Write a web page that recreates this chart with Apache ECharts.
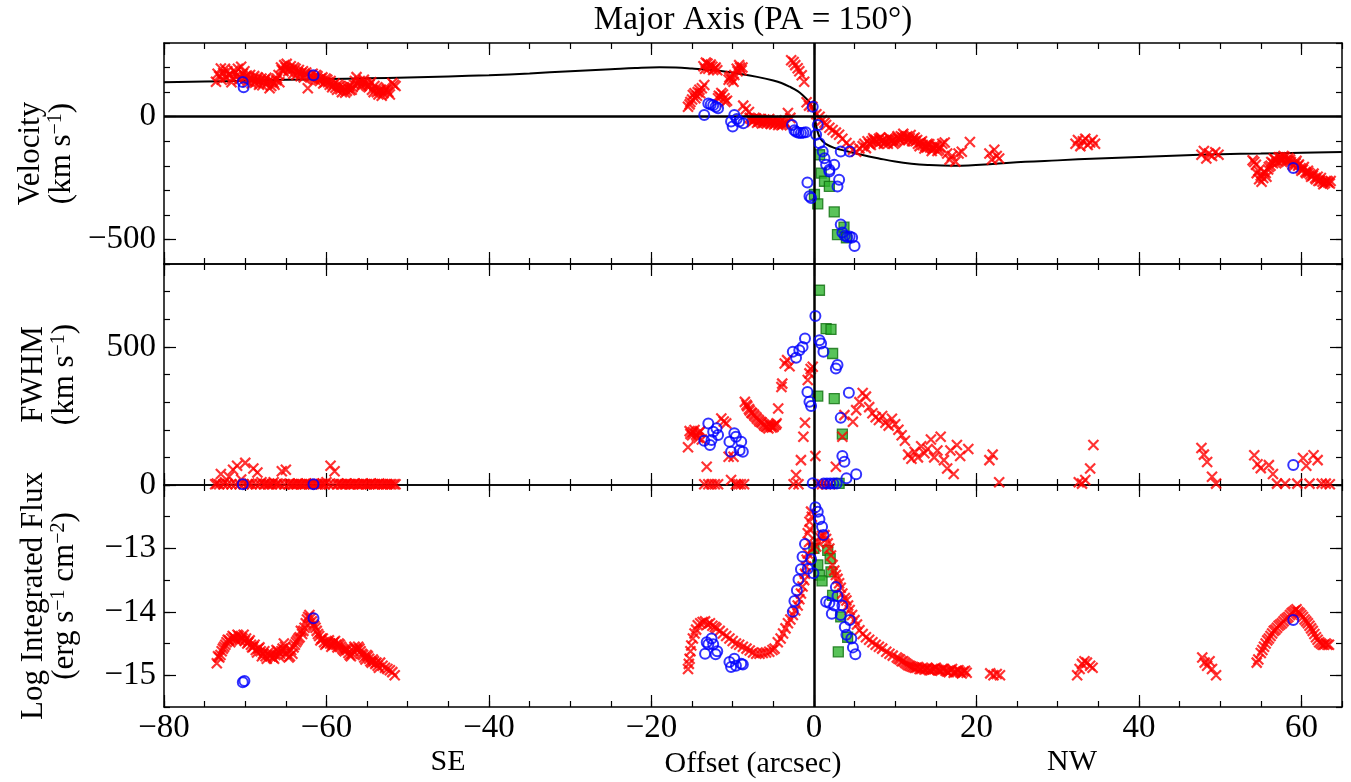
<!DOCTYPE html>
<html><head><meta charset="utf-8">
<script src="https://cdn.jsdelivr.net/npm/echarts@6/dist/echarts.min.js"></script>
<style>html,body{margin:0;padding:0;background:#fff}#c{width:1351px;height:782px}</style>
</head><body><div id="c"></div>
<script>
const FONT = 'Liberation Serif';
// ---- tick values ----
const xMajorTicks = [-80, -60, -40, -20, 0, 20, 40, 60];
const velTicks = [-500, 0];
const fwhmTicks = [0, 500];
const fluxTicks = [-15, -14, -13];

// ---- Velocity panel ----
const velModel = [[-80,140],[-75,143],[-70,146],[-65,150],[-60,153],[-55,156],[-50,160],[-45,164],[-40,169],[-35,176],[-30,185],[-25,193],[-22,198],[-19,201],[-17,200],[-15,196],[-13,191],[-11,184],[-9,174],[-7,162],[-5,147],[-4,137],[-3,122],[-2,104],[-1.3,85],[-0.7,65],[-0.3,45],[0,15],[0.2,-20],[0.4,-55],[0.8,-90],[1.5,-112],[2.5,-127],[4,-140],[6,-156],[8,-170],[10,-183],[12,-192],[14,-197],[17,-200],[19,-199],[22,-193],[26,-184],[30,-178],[35,-170],[40,-164],[45,-158],[50,-153],[55,-150],[60,-147],[65,-144]];
const velRed = [[-73.6,142],[-73.2,165],[-73.0,196],[-72.7,178],[-72.4,160],[-72.2,185],[-71.9,170],[-71.6,155],[-71.4,188],[-71.1,165],[-70.8,150],[-70.5,203],[-70.3,175],[-70.0,160],[-69.7,142],[-69.4,170],[-69.1,150],[-68.8,138],[-68.5,160],[-68.2,145],[-67.9,128],[-67.6,150],[-67.3,135],[-67.0,116],[-66.7,145],[-66.4,130],[-66.1,155],[-65.8,140],[-65.5,190],[-65.2,210],[-65.0,200],[-64.7,185],[-64.4,205],[-64.1,175],[-63.8,195],[-63.5,180],[-63.2,165],[-62.9,185],[-62.6,170],[-62.3,116],[-62.0,160],[-61.7,175],[-61.4,150],[-61.1,165],[-60.8,145],[-60.5,160],[-60.2,140],[-59.9,150],[-59.6,130],[-59.3,120],[-59.0,135],[-58.7,110],[-58.4,125],[-58.1,100],[-57.8,115],[-57.5,105],[-57.2,125],[-56.9,110],[-56.6,130],[-56.3,161],[-56.0,140],[-55.7,125],[-55.4,150],[-55.1,135],[-54.8,120],[-54.5,140],[-54.2,100],[-53.9,115],[-53.6,90],[-53.3,110],[-53.0,95],[-52.7,120],[-52.4,100],[-51.9,137],[-51.5,125],
[-73.4,175],[-72.9,150],[-72.5,195],[-72.0,172],[-71.7,140],[-71.2,180],[-70.9,195],[-70.6,158],[-70.1,185],[-69.8,168],[-69.5,155],[-69.2,135],[-68.9,165],[-68.6,148],[-68.3,130],[-68.0,155],[-67.7,140],[-67.4,158],[-67.1,145],[-66.8,125],[-66.5,138],[-66.2,148],[-65.9,170],[-65.6,200],[-65.3,185],[-64.9,215],[-64.6,195],[-64.3,190],[-64.0,200],[-63.7,170],[-63.4,190],[-63.1,178],[-62.8,160],[-62.5,180],[-61.9,170],[-61.6,155],[-61.3,170],[-61.0,150],[-60.7,155],[-60.4,135],[-60.1,155],[-59.8,140],[-59.5,145],[-59.2,128],[-58.9,118],[-58.6,130],[-58.3,112],[-58.0,120],[-57.7,98],[-57.4,118],[-57.1,108],[-56.8,120],[-56.5,145],[-56.2,130],[-55.9,145],[-55.6,135],[-55.3,140],[-55.0,125],[-54.7,130],[-54.4,110],[-54.1,125],[-53.8,100],[-53.5,105],[-53.2,85],[-52.9,105],[-52.6,110],[-52.2,90],[-51.7,130],
[-15.5,40],[-15.2,60],[-14.9,88],[-14.6,75],[-14.3,100],[-14.0,95],[-13.8,116],[-13.5,129],[-13.4,195],[-13.1,216],[-12.8,205],[-12.5,203],[-12.2,195],[-11.9,189],[-11.7,85],[-11.4,96],[-11.0,75],[-10.7,65],[-10.5,150],[-10.2,165],[-9.9,142],[-9.5,195],[-9.2,210],[-8.9,189],[-8.7,45],[-8.4,30],[-8.0,19],[-7.7,-10],[-7.4,-15],[-7.1,-8],[-6.8,-20],[-6.5,-12],[-6.2,-25],[-5.9,-15],[-5.6,-20],[-5.3,-30],[-5.0,-18],[-4.7,-25],[-4.4,-34],[-4.1,-22],[-3.8,-30],[-3.5,-28],[-3.2,15],[-2.9,-5],[-2.8,230],[-2.5,223],[-2.3,210],[-2.0,197],[-1.8,185],[-1.5,169],[-1.2,142],[-0.9,59],[-0.6,45],[-0.2,40],[0.3,10],[0.7,0],[1.0,-15],[1.3,-25],[1.5,-34],[1.9,-45],[2.3,-54],[2.7,-65],[3.1,-74],[3.5,-90],[4.0,-107],[4.4,-120],[4.8,-135],[5.2,-143],[5.6,-130],[6.0,-120],[6.4,-128],[6.8,-110],[7.1,-100],[7.4,-95],[7.7,-105],[8.0,-90],[8.3,-100],[8.6,-110],[8.9,-95],[9.2,-85],[9.5,-100],[9.8,-110],[10.1,-95],[10.4,-90],[10.7,-80],[11.0,-70],[11.3,-85],[11.6,-95],[11.9,-75],[12.2,-90],[12.5,-100],[12.8,-110],[13.1,-105],[13.4,-115],[13.7,-120],[14.0,-110],[14.3,-125],[14.6,-130],[14.9,-115],[15.2,-140],[15.5,-125],[15.8,-110],[16.1,-105],[16.4,-150],[16.7,-175],[17.0,-160],[17.4,-183],[17.8,-150],[18.2,-143],[19.2,-103],[21.6,-150],[21.9,-175],[22.2,-135],[22.5,-160],[22.8,-170],
[-15.3,50],[-15.0,70],[-14.7,95],[-14.4,85],[-14.1,110],[-13.6,205],[-13.3,220],[-13.0,195],[-12.7,212],[-12.4,190],[-12.1,200],[-11.8,75],[-11.5,80],[-11.2,90],[-10.9,60],[-10.4,160],[-10.1,150],[-9.8,170],[-9.4,185],[-9.1,200],[-8.8,200],
[-7.9,-5],[-7.6,-22],[-7.3,-5],[-7.0,-25],[-6.7,-10],[-6.4,-28],[-6.1,-12],[-5.8,-28],[-5.5,-10],[-5.2,-20],[-4.9,-32],[-4.6,-15],[-4.3,-25],[-4.0,-35],[-3.7,-18],[-3.4,-30],
[6.2,-110],[6.6,-100],[7.0,-115],[7.3,-88],[7.6,-95],[7.9,-110],[8.2,-85],[8.5,-95],[8.8,-105],[9.1,-110],[9.4,-90],[9.7,-95],[10.0,-105],[10.3,-80],[10.6,-95],[10.9,-85],[11.2,-100],[11.5,-80],[11.8,-88],[12.1,-100],[12.4,-85],[12.7,-95],[13.0,-120],[13.3,-100],[13.6,-130],[13.9,-125],[14.2,-112],[14.5,-140],[14.8,-128],[15.1,-120],[15.4,-135],
[32.2,-110],[32.5,-95],[32.8,-120],[33.1,-100],[33.4,-90],[33.7,-115],[34.0,-105],[34.3,-95],[34.6,-110],
[47.7,-155],[48.0,-140],[48.3,-170],[48.6,-150],[49.0,-160],[49.4,-145],[49.8,-155],
[54.0,-178],[54.4,-196],[54.7,-220],[55.0,-240],[55.3,-250],[55.6,-230],[55.9,-215],[56.2,-200],[56.5,-190],[56.8,-175],[57.1,-185],[57.4,-165],[57.7,-175],[58.0,-165],[58.3,-180],[58.6,-175],[58.9,-195],[59.3,-190],[59.6,-200],[59.9,-210],[60.2,-215],[60.5,-225],[60.8,-220],[61.1,-235],[61.4,-240],[61.7,-250],[62.0,-245],[62.3,-260],[62.6,-265],[62.9,-270],[63.2,-262],[63.5,-272],
[54.2,-185],[54.5,-230],[54.8,-255],[55.1,-265],[55.4,-225],[55.7,-245],[56.0,-205],[56.3,-185],[56.6,-170],[56.9,-190],[57.2,-165],[57.5,-180],[57.8,-160],[58.1,-178],[58.4,-168],[58.7,-185],[59.1,-200],[59.4,-180],[59.7,-195],[60.0,-220],[60.3,-205],[60.6,-230],[60.9,-228],[61.2,-245],[61.5,-232],[61.8,-255],[62.1,-262],[62.4,-250],[62.7,-275],[63.0,-262],[63.3,-268],[63.6,-262]];
const velBlue = [[-70.3,141],[-70.2,120],[-61.6,169],
[-13.5,7],[-13.0,54],[-12.7,50],[-12.4,47],[-12.1,40],[-11.8,34],[-10.2,-20],[-10.0,-40],[-9.8,7],[-9.5,-10],[-9.2,-20],[-8.7,-27],
[-2.7,-34],[-2.4,-55],[-2.2,-61],[-1.9,-66],[-1.6,-67],[-1.3,-65],[-1.0,-63],[-0.8,-268],[-0.55,-324],[-0.35,-331],[-0.15,40],[0.27,-74],[0.47,-34],[0.68,-108],[1.08,-142],[1.3,-169],[1.5,-196],[1.9,-216],[1.9,-223],[2.5,-196],[2.9,-284],[3.1,-257],[3.3,-142],[4.4,-142],[3.3,-439],[3.5,-472],[3.8,-485],[4.1,-490],[4.4,-488],[4.7,-492],[5.0,-527],
[59.0,-209]];
const velGreen = [[0.7,-155],[0.9,-230],[1.3,-263],[1.9,-284],[0.06,-317],[0.47,-355],[2.5,-388],[2.9,-480],[3.7,-450],[4.0,-493]];

// ---- FWHM panel ----
const fwhmRed = [[-73.5,5],[-73.0,40],[-72.5,10],[-72.0,30],[-71.5,55],[-71.0,70],[-70.5,20],[-70.0,80],[-69.5,5],[-69.0,60],[-68.5,45],[-68.0,10],[-67.5,5],[-67.0,3],[-66.5,10],[-66.0,5],[-65.5,50],[-65.0,55],[-64.5,5],[-64.0,3],[-63.5,5],[-63.0,3],[-62.5,5],[-62.0,3],[-61.5,5],[-61.0,3],[-60.5,5],[-60.0,10],[-59.5,70],[-59.0,50],[-58.5,5],[-58.0,3],[-57.5,5],[-57.0,3],[-56.5,5],[-56.0,3],[-55.5,5],[-55.0,3],[-54.5,5],[-54.0,3],[-53.5,5],[-53.0,3],[-52.5,3],[-52.0,3],[-51.5,3],
[-73.7,3],[-73.2,3],[-72.7,3],[-72.2,3],[-71.7,3],[-71.2,3],[-70.7,3],[-70.2,3],[-69.7,3],[-69.2,3],[-68.7,3],[-68.2,3],[-67.7,3],[-67.2,3],[-66.7,3],[-66.2,3],[-65.7,3],[-65.2,3],[-64.7,3],[-64.2,3],[-63.7,3],[-63.2,3],[-62.7,3],[-62.2,3],[-61.7,3],[-61.2,3],[-60.7,3],[-60.2,3],[-59.7,3],[-59.2,3],[-58.7,3],[-58.2,3],[-57.7,3],[-57.2,3],[-56.7,3],[-56.2,3],[-55.7,3],[-55.2,3],[-54.7,3],[-54.2,3],[-53.7,3],[-53.2,3],[-52.7,3],[-52.2,3],[-51.7,3],
[-15.5,137],[-15.3,195],[-15.0,180],[-14.7,199],[-14.4,175],[-14.1,190],[-13.8,165],[-13.5,3],[-13.2,66],[-13.0,3],[-12.6,3],[-12.2,3],[-11.8,3],[-11.4,241],[-11.1,230],[-10.8,223],[-10.5,102],[-10.2,18],[-9.9,102],[-9.6,3],[-9.3,3],[-9.0,3],[-8.6,3],[-8.5,301],[-8.2,285],[-7.9,270],[-7.6,260],[-7.3,250],[-7.0,240],[-6.7,230],[-6.4,225],[-6.1,215],[-5.8,210],[-5.5,220],[-5.2,208],[-4.9,215],[-4.6,223],[-4.4,277],[-4.0,355],[-3.9,367],[-3.6,440],[-3.3,452],[-3.0,430],[-2.5,3],[-2.2,36],[-1.9,3],[-1.6,90],[-1.3,175],[-1.1,225],[-0.76,380],[-0.55,404],[-0.4,420],[-0.15,428],[0.18,105],[0.5,3],[1.0,3],[1.5,3],[2.0,3],[2.7,66],[3.5,175],[3.75,253],[4.8,229],[5.2,271],[5.6,300],[6.0,333],[6.4,320],[6.8,282],[7.2,260],[7.6,245],[8.0,235],
[-15.2,185],[-14.9,192],[-14.5,182],[-14.2,170],[-14.0,195],[-8.3,290],[-8.0,275],[-7.7,262],[-7.4,255],[-7.1,245],[-6.8,235],[-6.5,228],[-6.2,220],[-5.9,212],[-5.6,205],[-5.3,215],[-5.0,210],[-4.7,218],
[8.4,250],[8.8,225],[9.2,215],[9.6,240],[10.0,220],[10.4,200],[10.8,180],[11.2,160],[11.6,110],[12.0,95],[12.4,120],[12.8,100],[13.2,140],[13.6,115],[14.0,130],[14.4,165],[14.8,100],[15.2,125],[15.6,175],[16.0,90],[16.4,60],[16.8,125],[17.2,40],[17.6,145],[18.0,105],[19.0,130],[21.6,90],[22.0,110],[22.8,10],
[32.6,10],[33.0,5],[33.4,18],[34.0,60],[34.4,145],[47.7,134],[48.0,110],[48.4,83],[49.0,30],[49.5,5],[54.2,108],[54.6,75],[55.0,61],[56.0,72],[56.5,40],[57.0,5],[58.0,5],[59.5,5],[60.2,98],[60.6,70],[61.0,5],[61.5,108],[62.0,90],[62.5,5],[63.0,5],[63.5,3]];
const fwhmBlue = [[-70.3,3],[-61.6,3],
[-13.5,160],[-13.0,223],[-12.8,145],[-12.6,163],[-12.4,193],[-12.0,205],[-11.8,181],[-10.4,157],[-10.2,120],[-9.8,187],[-9.6,175],[-9.15,126],[-8.95,157],[-8.75,120],
[-2.6,482],[-2.2,461],[-1.8,488],[-1.4,500],[-1.1,530],[-0.8,337],[-0.55,301],[-0.35,286],[-0.15,6],[0.18,612],[0.68,524],[0.88,512],[1.17,482],[1.2,5],[1.6,5],[2.0,5],[2.4,5],[2.8,5],[2.7,422],[2.9,434],[3.3,243],[3.5,105],[3.75,84],[4.0,24],[4.3,334],[5.2,39],
[59.0,72]];
const fwhmGreen = [[0.68,705],[1.5,566],[2.1,563],[2.3,476],[0.47,322],[2.5,313],[3.5,184],[3.1,6]];

// ---- Flux panel ----
const fluxRed = [[-73.5,-14.81],[-73.2,-14.72],[-72.9,-14.62],[-72.6,-14.55],[-72.3,-14.48],[-72.0,-14.45],[-71.7,-14.42],[-71.4,-14.40],[-71.1,-14.45],[-70.8,-14.38],[-70.5,-14.40],[-70.2,-14.36],[-69.9,-14.42],[-69.6,-14.48],[-69.3,-14.52],[-69.0,-14.55],[-68.7,-14.60],[-68.4,-14.58],[-68.1,-14.62],[-67.8,-14.66],[-67.5,-14.70],[-67.2,-14.65],[-66.9,-14.70],[-66.6,-14.72],[-66.3,-14.68],[-66.0,-14.62],[-65.7,-14.66],[-65.4,-14.58],[-65.1,-14.55],[-64.8,-14.62],[-64.5,-14.70],[-64.2,-14.66],[-63.9,-14.52],[-63.6,-14.45],[-63.3,-14.40],[-63.0,-14.35],[-62.7,-14.25],[-62.4,-14.12],[-62.1,-14.05],[-61.8,-14.15],[-61.5,-14.22],[-61.2,-14.30],[-60.9,-14.38],[-60.6,-14.42],[-60.3,-14.48],[-60.0,-14.50],[-59.7,-14.45],[-59.4,-14.55],[-59.1,-14.48],[-58.8,-14.52],[-58.5,-14.50],[-58.2,-14.55],[-57.9,-14.60],[-57.6,-14.58],[-57.3,-14.65],[-57.0,-14.70],[-56.7,-14.62],[-56.4,-14.58],[-56.1,-14.55],[-55.8,-14.62],[-55.5,-14.68],[-55.2,-14.75],[-54.9,-14.70],[-54.6,-14.78],[-54.3,-14.75],[-54.0,-14.82],[-53.7,-14.85],[-53.4,-14.80],[-52.8,-14.88],[-52.2,-14.92],[-51.6,-15.0],
[-73.35,-14.7],[-73.05,-14.68],[-72.75,-14.58],[-72.45,-14.52],[-72.15,-14.44],[-71.85,-14.48],[-71.55,-14.38],[-71.25,-14.42],[-70.95,-14.36],[-70.65,-14.45],[-70.35,-14.42],[-70.05,-14.46],[-69.75,-14.5],[-69.45,-14.45],[-69.15,-14.56],[-68.85,-14.52],[-68.55,-14.64],[-68.25,-14.56],[-67.95,-14.7],[-67.65,-14.62],[-67.35,-14.74],[-67.05,-14.68],[-66.75,-14.66],[-66.45,-14.74],[-66.15,-14.6],[-65.85,-14.7],[-65.55,-14.62],[-65.25,-14.5],[-64.95,-14.66],[-64.65,-14.72],[-64.35,-14.6],[-64.05,-14.56],[-63.75,-14.48],[-63.45,-14.42],[-63.15,-14.3],[-62.85,-14.3],[-62.55,-14.18],[-62.25,-14.08],[-61.95,-14.1],[-61.65,-14.2],[-61.35,-14.25],[-61.05,-14.35],[-60.75,-14.45],[-60.45,-14.42],[-60.15,-14.52],[-59.85,-14.48],[-59.55,-14.5],[-59.25,-14.52],[-58.95,-14.46],[-58.65,-14.56],[-58.35,-14.52],[-58.05,-14.58],[-57.75,-14.62],[-57.45,-14.6],[-57.15,-14.68],[-56.85,-14.66],[-56.55,-14.55],[-56.25,-14.6],[-55.95,-14.58],[-55.65,-14.66],[-55.35,-14.72],[-55.05,-14.68],[-54.75,-14.74],[-54.45,-14.8],[-54.15,-14.78],[-53.85,-14.8],[-53.55,-14.88],[-53.1,-14.85],[-52.5,-14.9],[-51.9,-14.95],
[-15.5,-14.90],[-15.3,-14.74],[-15.1,-14.53],[-14.7,-14.34],[-14.3,-14.21],[-13.7,-14.16],[-12.8,-14.18],[-12.0,-14.26],[-11.2,-14.34],[-10.4,-14.42],[-9.6,-14.50],[-8.75,-14.55],[-7.9,-14.61],[-7.1,-14.66],[-6.3,-14.65],[-5.5,-14.63],[-4.85,-14.58],[-4.45,-14.48],[-3.8,-14.34],[-3.2,-14.18],[-2.6,-14.05],[-2.0,-13.90],[-1.6,-13.71],[-1.2,-13.50],[-0.96,-13.29],[-0.76,-13.08],[-0.76,-12.76],[-0.55,-12.58],[-0.35,-12.42],[-0.15,-13.0],[0.27,-12.97],[0.68,-12.82],[1.3,-12.79],[1.7,-12.92],[2.1,-13.11],[2.3,-13.26],[2.7,-13.42],[3.1,-13.55],[3.5,-13.71],[4.0,-13.82],[4.4,-13.97],[5.0,-14.13],[5.6,-14.29],[6.4,-14.40],[7.2,-14.48],[8.0,-14.55],[8.9,-14.63],[9.7,-14.69],
[-15.4,-14.82],[-15.2,-14.62],[-14.9,-14.42],[-14.5,-14.28],[-14.0,-14.18],[-13.4,-14.15],[-13.1,-14.2],[-12.5,-14.22],[-12.2,-14.24],[-11.6,-14.3],[-10.8,-14.38],[-10.0,-14.46],[-9.2,-14.52],[-8.3,-14.58],[-7.5,-14.64],[-6.7,-14.66],[-5.9,-14.64],[-5.1,-14.6],[-4.1,-14.42],[-3.5,-14.26],[-2.9,-14.12],[-2.3,-13.98],[-1.8,-13.8],[-1.4,-13.6],[-1.1,-13.4],[-0.9,-13.18],[-0.6,-12.9],[-0.5,-12.7],[-0.25,-12.5],[0.5,-12.9],[1.0,-12.8],[1.5,-12.85],[1.9,-13.0],[2.5,-13.35],[2.9,-13.48],[3.3,-13.62],[3.8,-13.78],[4.2,-13.9],[4.7,-14.05],[5.3,-14.2],[6.0,-14.35],[6.8,-14.44],[7.6,-14.52],[8.4,-14.58],[9.3,-14.66],
[10.2,-14.72],[10.6,-14.75],[11.0,-14.78],[11.4,-14.82],[11.8,-14.85],[12.2,-14.87],[12.6,-14.88],[13.0,-14.9],[13.4,-14.88],[13.8,-14.9],[14.2,-14.92],[14.6,-14.9],[15.0,-14.88],[15.4,-14.92],[15.8,-14.9],[16.2,-14.93],[16.6,-14.95],[17.0,-14.9],[17.4,-14.95],[17.8,-14.92],[18.2,-14.97],[18.6,-14.93],[21.7,-14.97],[22.1,-15.0],[22.5,-14.98],[22.9,-15.0],
[10.4,-14.74],[10.8,-14.78],[11.2,-14.8],[11.6,-14.84],[12.0,-14.86],[12.4,-14.88],[12.8,-14.87],[13.2,-14.9],[13.6,-14.91],[14.0,-14.89],[14.4,-14.92],[14.8,-14.9],[15.2,-14.91],[15.6,-14.93],[16.0,-14.9],[16.4,-14.94],[16.8,-14.92],[17.2,-14.96],[17.6,-14.93],[18.0,-14.95],[18.4,-14.94],[18.8,-14.96],
[32.4,-15.0],[32.7,-14.9],[33.0,-14.82],[33.3,-14.78],[33.6,-14.8],[34.0,-14.85],[34.3,-14.88],
[47.8,-14.72],[48.1,-14.8],[48.4,-14.85],[48.7,-14.78],[49.0,-14.9],[49.5,-15.0],
[54.5,-14.8],[55.0,-14.65],[55.4,-14.55],[55.8,-14.45],[56.2,-14.38],[56.6,-14.3],[57.0,-14.25],[57.4,-14.2],[57.8,-14.15],[58.2,-14.1],[58.6,-14.05],[59.0,-14.0],[59.4,-13.96],[59.8,-14.02],[60.2,-14.08],[60.6,-14.15],[61.0,-14.22],[61.4,-14.3],[61.8,-14.4],[62.2,-14.48],[62.6,-14.52],[63.0,-14.5],[63.4,-14.52],
[54.7,-14.75],[55.2,-14.6],[55.6,-14.5],[56.0,-14.42],[56.4,-14.34],[56.8,-14.28],[57.2,-14.22],[57.6,-14.18],[58.0,-14.12],[58.4,-14.08],[58.8,-14.02],[59.2,-13.98],[59.6,-14.0],[60.0,-14.05],[60.4,-14.12],[60.8,-14.18],[61.2,-14.26],[61.6,-14.35],[62.0,-14.44],[62.4,-14.5],[62.8,-14.52],[63.2,-14.52]];
const fluxBlue = [[-70.3,-15.11],[-70.1,-15.09],[-61.6,-14.1],
[-13.2,-14.48],[-13.0,-14.51],[-12.6,-14.42],[-12.4,-14.51],[-13.4,-14.66],[-11.9,-14.62],[-12.1,-14.67],
[-10.4,-14.79],[-9.8,-14.74],[-10.2,-14.87],[-9.6,-14.85],[-8.95,-14.82],[-8.75,-14.83],
[0.18,-12.35],[0.47,-12.42],[0.68,-12.54],[1.0,-12.66],[1.17,-12.79],[-1.1,-12.93],[-1.4,-13.13],[-0.35,-13.17],[-1.6,-13.33],[-0.76,-13.32],[-0.06,-13.39],[-1.9,-13.49],[-2.1,-13.66],[-2.4,-13.83],[-2.6,-14.0],
[2.7,-13.61],[2.9,-13.75],[1.5,-13.84],[1.9,-13.86],[2.5,-13.90],[3.5,-13.90],[2.2,-14.03],[3.3,-14.05],[4.4,-14.13],[3.8,-14.24],[4.0,-14.36],[4.6,-14.42],[4.8,-14.56],[5.1,-14.67],
[59.0,-14.13]];
const fluxGreen = [[0.0,-13.0],[0.47,-13.26],[0.68,-13.42],[1.0,-13.51],[1.7,-13.03],[2.0,-13.16],[2.1,-13.37],[2.3,-13.74],[3.3,-14.08],[4.15,-14.40],[3.0,-14.63]];

// ---- styling helpers ----
const AXIS_COLOR = '#000';
const minus = v => String(v).replace('-', '\u2212');
const labelStyle = {fontFamily: FONT, fontSize: 33, color: '#000'};
const CROSS = 'path://M0,0L10,10M10,0L0,10';

function xAxesFor(g) {
  const base = {gridIndex: g, type: 'value', min: -80, max: 65, splitLine: {show: false}};
  const line = {show: true, onZero: false, lineStyle: {color: AXIS_COLOR, width: 1.5}};
  const noLine = {show: false, onZero: false};
  const tickMinor = {show: true, inside: true, length: 6, lineStyle: {color: AXIS_COLOR, width: 1.2}};
  const tickMajor = {show: true, inside: true, length: 12, customValues: xMajorTicks, lineStyle: {color: AXIS_COLOR, width: 1.2}};
  return [
    Object.assign({}, base, {position: 'bottom', interval: 5, axisLine: line, axisTick: tickMinor, axisLabel: {show: false}}),
    Object.assign({}, base, {position: 'bottom', axisLine: noLine, axisTick: tickMajor,
      axisLabel: Object.assign({show: g === 2, customValues: xMajorTicks, formatter: minus, margin: 5}, labelStyle),
      name: g === 2 ? 'Offset (arcsec)' : '', nameLocation: 'middle', nameGap: 42,
      nameTextStyle: {fontFamily: FONT, fontSize: 30, color: '#000'}}),
    Object.assign({}, base, {position: 'top', interval: 5, axisLine: line, axisTick: tickMinor, axisLabel: {show: false}}),
    Object.assign({}, base, {position: 'top', axisLine: noLine, axisTick: tickMajor, axisLabel: {show: false}})
  ];
}
function yAxesFor(g, min, max, step, majors, name) {
  const base = {gridIndex: g, type: 'value', min: min, max: max, splitLine: {show: false}};
  const line = {show: true, onZero: false, lineStyle: {color: AXIS_COLOR, width: 1.5}};
  const noLine = {show: false, onZero: false};
  const tickMinor = {show: true, inside: true, length: 6, lineStyle: {color: AXIS_COLOR, width: 1.2}};
  const tickMajor = {show: true, inside: true, length: 12, customValues: majors, lineStyle: {color: AXIS_COLOR, width: 1.2}};
  return [
    Object.assign({}, base, {position: 'left', interval: step, axisLine: line, axisTick: tickMinor, axisLabel: {show: false}}),
    Object.assign({}, base, {position: 'left', axisLine: noLine, axisTick: tickMajor,
      axisLabel: Object.assign({show: true, customValues: majors, formatter: minus, margin: 8}, labelStyle),
      name: name, nameLocation: 'middle', nameRotate: 90, nameGap: 84,
      nameTextStyle: {fontFamily: FONT, fontSize: 31, color: '#000',
        rich: {a: {fontFamily: FONT, fontSize: 31, lineHeight: 31, color: '#000'},
               s: {fontFamily: FONT, fontSize: 20, lineHeight: 19, verticalAlign: 'top', color: '#000'}}}}),
    Object.assign({}, base, {position: 'right', interval: step, axisLine: line, axisTick: tickMinor, axisLabel: {show: false}}),
    Object.assign({}, base, {position: 'right', axisLine: noLine, axisTick: tickMajor, axisLabel: {show: false}})
  ];
}

const zeroLine = {color: '#000', width: 2.5, type: 'solid'};
function vLine() {
  return {silent: true, symbol: 'none', label: {show: false}, lineStyle: zeroLine, data: [{xAxis: 0}], animation: false};
}
function scatterSet(g, red, blue, green) {
  return [
    {type: 'scatter', xAxisIndex: 4 * g, yAxisIndex: 4 * g, data: green, symbol: 'rect', symbolSize: 10,
      itemStyle: {color: '#2fb42f', borderColor: '#0e6e0e', borderWidth: 1.3}, z: 3},
    {type: 'scatter', xAxisIndex: 4 * g, yAxisIndex: 4 * g, data: red, symbol: CROSS, symbolSize: 10,
      itemStyle: {color: 'rgba(0,0,0,0)', borderColor: '#ff0000', borderWidth: 2.2}, z: 4,
      markLine: g === 0 ? undefined : vLine()},
    {type: 'scatter', xAxisIndex: 4 * g, yAxisIndex: 4 * g, data: blue, symbol: 'circle', symbolSize: 10,
      itemStyle: {color: 'rgba(0,0,0,0)', borderColor: '#0000ff', borderWidth: 2}, z: 5}
  ];
}

const grids = [
  {left: 164, right: 9, top: 43, height: 221},
  {left: 164, right: 9, top: 264, height: 221},
  {left: 164, right: 9, top: 485, height: 222}
];

const option = {
  animation: false,
  backgroundColor: '#fff',
  grid: grids,
  xAxis: [].concat(xAxesFor(0), xAxesFor(1), xAxesFor(2)),
  yAxis: [].concat(
    yAxesFor(0, -600, 300, 100, velTicks, '{a|Velocity}\n{a|(km s}{s|\u22121}{a|)}'),
    yAxesFor(1, 0, 800, 100, fwhmTicks, '{a|FWHM}\n{a|(km s}{s|\u22121}{a|)}'),
    yAxesFor(2, -15.5, -12, 0.5, fluxTicks, '{a|Log Integrated Flux}\n{a|(erg s}{s|\u22121}{a| cm}{s|\u22122}{a|)}')
  ),
  graphic: [
    {type: 'text', x: 753, y: 20, style: {text: 'Major Axis (PA = 150\u00b0)', font: '33px "Liberation Serif"', fill: '#000', align: 'center', verticalAlign: 'middle'}},
    {type: 'text', x: 448, y: 762, style: {text: 'SE', font: '30px "Liberation Serif"', fill: '#000', align: 'center', verticalAlign: 'middle'}},
    {type: 'text', x: 1072, y: 762, style: {text: 'NW', font: '30px "Liberation Serif"', fill: '#000', align: 'center', verticalAlign: 'middle'}}
  ],
  series: [
    {type: 'line', xAxisIndex: 0, yAxisIndex: 0, data: velModel, smooth: 0.4, symbol: 'none',
      lineStyle: {color: '#000', width: 2}, z: 2,
      markLine: {silent: true, symbol: 'none', label: {show: false}, lineStyle: zeroLine, data: [{xAxis: 0}, {yAxis: 0}]}}
  ].concat(scatterSet(0, velRed, velBlue, velGreen), scatterSet(1, fwhmRed, fwhmBlue, fwhmGreen), scatterSet(2, fluxRed, fluxBlue, fluxGreen))
};

const chart = echarts.init(document.getElementById('c'), null, {renderer: 'canvas'});
chart.setOption(option);
</script>
</body></html>
